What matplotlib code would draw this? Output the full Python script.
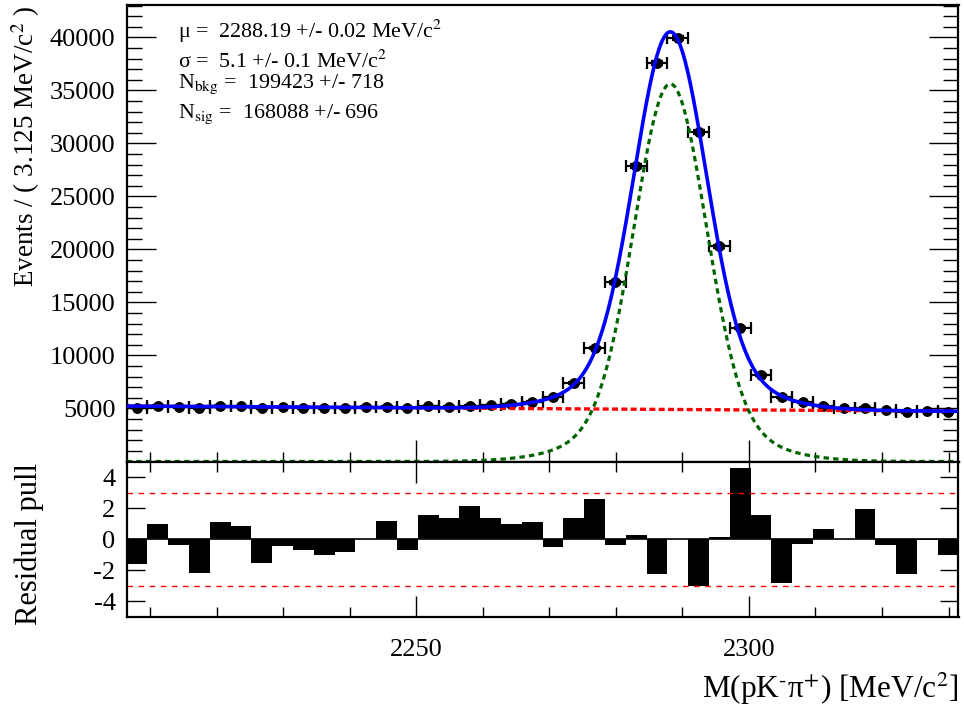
import numpy as np
import matplotlib.pyplot as plt
from matplotlib.ticker import MultipleLocator

plt.rcParams['font.family'] = ['Liberation Serif', 'DejaVu Serif']
plt.rcParams['mathtext.fontset'] = 'stix'
plt.rcParams['axes.unicode_minus'] = False

# binning of the mass histogram
x_lo, x_hi = 2206.5, 2331.5
bin_w = 3.125
nbins = 40
centers = x_lo + bin_w * (np.arange(nbins) + 0.5)

# events per bin
counts = [5090, 5250, 5150, 5010, 5250, 5205, 5020, 5100, 5050, 5015,
          5030, 5120, 5170, 5020, 5200, 5145, 5280, 5300, 5420, 5650,
          6050, 7400, 10700, 16900, 27900, 37600, 39950, 31100, 20300, 12600,
          8150, 6050, 5580, 5280, 5000, 5090, 4820, 4670, 4800, 4680]

# residual pulls per bin
pulls = [-1.59, 0.95, -0.34, -2.19, 1.08, 0.88, -1.55, -0.45, -0.69, -1.03,
         -0.84, 0.02, 1.20, -0.71, 1.53, 1.34, 2.17, 1.34, 0.95, 1.14,
         -0.51, 1.34, 2.56, -0.38, 0.30, -2.26, 0.03, -2.99, 0.17, 4.56,
         1.59, -2.84, -0.32, 0.63, 0.02, 1.92, -0.36, -2.23, -0.02, -1.01]

# fit result (double gaussian signal + linear background)
mu = 2288.19
sigma1, sigma2, frac1 = 5.3, 10.5, 0.80
n_sig, n_bkg = 168088, 199423
bkg_slope = -0.000786

legend_lines = ["μ =  2288.19 +/- 0.02 MeV/c$^{2}$",
                "σ =  5.1 +/- 0.1 MeV/c$^{2}$",
                r"N$_{\rm bkg}$ =  199423 +/- 718",
                r"N$_{\rm sig}$ =  168088 +/- 696"]
legend_y = [38.3, 68.3, 88.3, 118.3]  # baselines in pixels from top


def gauss(x, m, s):
    return np.exp(-0.5 * ((x - m) / s) ** 2) / (s * np.sqrt(2 * np.pi))


xx = np.linspace(x_lo, x_hi, 1000)
sig = n_sig * bin_w * (frac1 * gauss(xx, mu, sigma1) + (1 - frac1) * gauss(xx, mu, sigma2))
bkg = n_bkg / nbins * (1 + bkg_slope * (xx - 0.5 * (x_lo + x_hi)))
tot = sig + bkg

W, H = 964, 709
fig = plt.figure(figsize=(W / 100, H / 100), dpi=100)
left, right = 126.7, 958.5
ax1 = fig.add_axes([left / W, 1 - 461.5 / H, (right - left) / W, (461.5 - 5) / H])
ax2 = fig.add_axes([left / W, 1 - 617 / H, (right - left) / W, (617 - 461.5) / H])

# top panel
counts = np.array(counts)
ax1.errorbar(centers, counts, xerr=bin_w / 2, yerr=np.sqrt(counts), fmt='o',
             color='black', ms=6.8, elinewidth=1.6, capsize=4, capthick=1.6, zorder=2)
ax1.plot(xx, bkg, color='red', lw=2.4, ls=(0, (1.8, 1.0)), zorder=3)
ax1.plot(xx, sig, color='#006400', lw=2.3, ls=(0, (1.7, 1.3)), zorder=3)
ax1.plot(xx, tot, color='blue', lw=2.6, zorder=4)

ax1.set_xlim(x_lo, x_hi)
ax1.set_ylim(0, 43066)
ax1.set_yticks(np.arange(5000, 40001, 5000))
ax1.yaxis.set_minor_locator(MultipleLocator(1000))
ax1.set_xticks([2250, 2300])
ax1.xaxis.set_minor_locator(MultipleLocator(10))
ax1.tick_params(axis='both', which='both', direction='in', labelsize=19, width=1.0)
ax1.tick_params(axis='y', which='major', length=21, right=True, pad=8)
ax1.tick_params(axis='y', which='minor', length=10.5, right=True)
ax1.tick_params(axis='x', which='major', length=16, labelbottom=False, top=False)
ax1.tick_params(axis='x', which='minor', length=7, top=False)
ax1.set_ylabel(r"Events / ( 3.125 MeV/c$^{2}$ )", fontsize=19.5, loc='top')
lab_x = (42 - left) / (right - left)
ax1.yaxis.set_label_coords(lab_x, 1.0)

for line, yb in zip(legend_lines, legend_y):
    fig.text(178.5 / W, 1 - yb / H, line, fontsize=15.8, ha='left', va='baseline')

# pull panel
ax2.bar(centers, pulls, width=bin_w, color='black', lw=0)
ax2.axhline(0, color='black', lw=1.2)
ax2.axhline(3, color='red', lw=1.0, ls=(0, (4, 4)))
ax2.axhline(-3, color='red', lw=1.0, ls=(0, (4, 4)))
ax2.set_xlim(x_lo, x_hi)
ax2.set_ylim(-5, 5)
ax2.set_yticks([-4, -2, 0, 2, 4])
ax2.set_xticks([2250, 2300])
ax2.xaxis.set_minor_locator(MultipleLocator(10))
ax2.tick_params(axis='both', which='both', direction='in', labelsize=19, width=1.0)
ax2.tick_params(axis='y', which='major', length=13, right=True, pad=8)
ax2.tick_params(axis='x', which='major', length=15, top=True, pad=16)
ax2.tick_params(axis='x', which='minor', length=7, top=True)
ax2.set_ylabel("Residual pull", fontsize=22)
ax2.yaxis.set_label_coords((44 - left) / (right - left), 0.47)
ax2.set_xlabel(r"M(pK$^{\text{-}}$π$^{+}$) [MeV/c$^{2}$]", fontsize=22.5, loc='right', labelpad=7)

for ax in (ax1, ax2):
    for s in ax.spines.values():
        s.set_linewidth(1.6)

fig.savefig("out.png", dpi=100)
